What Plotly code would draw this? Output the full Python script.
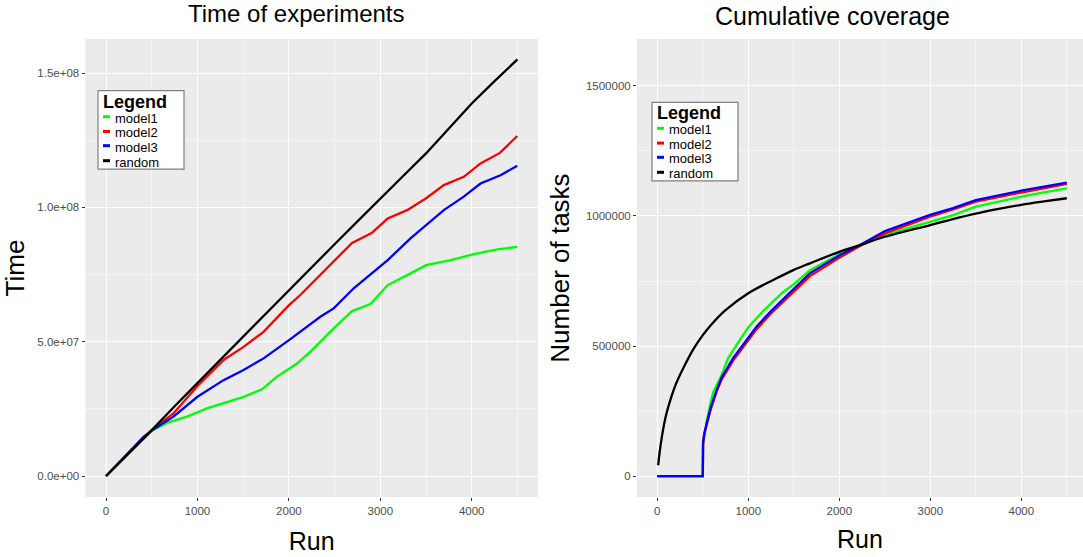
import plotly.graph_objects as go

# ---------------- data: Time of experiments ----------------
t_random_x = [0, 250, 500, 750, 1000, 1250, 1500, 1750, 2000, 2250, 2500, 2750, 3000, 3250, 3500, 3750, 4000, 4250, 4500]
t_random_y = [0, 8.5e6, 1.71e7, 2.6e7, 3.45e7, 4.33e7, 5.19e7, 6.05e7, 6.92e7, 7.75e7, 8.63e7, 9.48e7, 1.034e8,
              1.117e8, 1.201e8, 1.294e8, 1.387e8, 1.47e8, 1.551e8]

t_model2_x = [0, 250, 500, 737, 1000, 1285, 1504, 1723, 2001, 2125, 2344, 2508, 2691, 2910, 3081, 3293, 3501, 3695,
              3913, 4096, 4308, 4498]
t_model2_y = [0, 8.5e6, 1.71e7, 2.33e7, 3.35e7, 4.32e7, 4.81e7, 5.37e7, 6.36e7, 6.74e7, 7.48e7, 8.04e7, 8.68e7,
              9.06e7, 9.59e7, 9.9e7, 1.034e8, 1.083e8, 1.114e8, 1.164e8, 1.203e8, 1.266e8]

t_model3_x = [0, 250, 409, 500, 737, 1000, 1285, 1504, 1723, 2001, 2125, 2344, 2490, 2709, 3081, 3330, 3501, 3695,
              3913, 4096, 4315, 4498]
t_model3_y = [0, 8.7e6, 1.46e7, 1.69e7, 2.21e7, 2.95e7, 3.57e7, 3.95e7, 4.38e7, 5.06e7, 5.37e7, 5.93e7, 6.24e7,
              6.99e7, 8.04e7, 8.85e7, 9.34e7, 9.9e7, 1.04e8, 1.089e8, 1.12e8, 1.155e8]

t_model1_x = [0, 250, 500, 665, 884, 1103, 1322, 1504, 1705, 1870, 2089, 2253, 2490, 2691, 2892, 3081, 3293, 3501,
              3768, 4023, 4279, 4498]
t_model1_y = [0, 8.5e6, 1.69e7, 1.98e7, 2.21e7, 2.52e7, 2.77e7, 2.95e7, 3.23e7, 3.7e7, 4.19e7, 4.69e7, 5.5e7,
              6.14e7, 6.4e7, 7.11e7, 7.48e7, 7.85e7, 8.04e7, 8.26e7, 8.44e7, 8.53e7]

# ---------------- data: Cumulative coverage ----------------
c_random_x = [10, 25, 50, 75, 100, 150, 200, 300, 400, 500, 600, 750, 1000, 1275, 1495, 1678, 2008, 2227, 2502,
              3000, 3250, 3500, 3750, 4000, 4250, 4500]
c_random_y = [4.2e4, 9.0e4, 1.5e5, 2.0e5, 2.4e5, 3.0e5, 3.5e5, 4.25e5, 4.9e5, 5.42e5, 5.85e5, 6.38e5, 7.03e5,
              7.54e5, 7.92e5, 8.18e5, 8.63e5, 8.88e5, 9.2e5, 9.65e5, 9.88e5, 1.009e6, 1.027e6, 1.043e6, 1.056e6,
              1.068e6]

c_model1_x = [0, 500, 503, 520, 540, 575, 616, 689, 780, 900, 1000, 1150, 1374, 1500, 1678, 2008, 2227, 2502, 2997,
              3250, 3500, 3750, 4000, 4250, 4500]
c_model1_y = [0, 0, 1.2e5, 1.7e5, 2.05e5, 2.67e5, 3.25e5, 3.75e5, 4.55e5, 5.2e5, 5.72e5, 6.3e5, 7.05e5, 7.38e5,
              7.92e5, 8.54e5, 8.88e5, 9.27e5, 9.78e5, 1.003e6, 1.036e6, 1.056e6, 1.074e6, 1.091e6, 1.106e6]

c_model2_x = [0, 500, 503, 516, 543, 590, 652, 708, 835, 1000, 1092, 1250, 1470, 1678, 2008, 2227, 2502, 2997, 3250,
              3500, 4000, 4500]
c_model2_y = [0, 0, 1.25e5, 1.6e5, 1.98e5, 2.6e5, 3.25e5, 3.72e5, 4.45e5, 5.22e5, 5.65e5, 6.25e5, 7.0e5, 7.69e5,
              8.41e5, 8.85e5, 9.33e5, 9.97e5, 1.025e6, 1.055e6, 1.09e6, 1.123e6]

c_model3_x = [0, 500, 503, 516, 543, 590, 652, 708, 835, 1000, 1092, 1250, 1470, 1678, 2008, 2227, 2502, 2997, 3250,
              3500, 4000, 4500]
c_model3_y = [0, 0, 1.3e5, 1.64e5, 2.03e5, 2.67e5, 3.31e5, 3.8e5, 4.55e5, 5.3e5, 5.75e5, 6.35e5, 7.1e5, 7.8e5,
              8.5e5, 8.88e5, 9.42e5, 1.004e6, 1.03e6, 1.061e6, 1.097e6, 1.128e6]

series_names = ["model1", "model2", "model3", "random"]
series_colors = ["#00FF00", "#FF0000", "#0000FF", "#000000"]

x_tickvals = [0, 1000, 2000, 3000, 4000]
x_ticktext = ["0", "1000", "2000", "3000", "4000"]
t_tickvals = [0, 5e7, 1e8, 1.5e8]
t_ticktext = ["0.0e+00", "5.0e+07", "1.0e+08", "1.5e+08"]
c_tickvals = [0, 500000, 1000000, 1500000]
c_ticktext = ["0", "500000", "1000000", "1500000"]

W, H = 1083, 557
FONT = "Liberation Sans, Arial, sans-serif"

fig = go.Figure()

left = [(t_model1_x, t_model1_y), (t_model2_x, t_model2_y), (t_model3_x, t_model3_y), (t_random_x, t_random_y)]
right = [(c_model1_x, c_model1_y), (c_model2_x, c_model2_y), (c_model3_x, c_model3_y), (c_random_x, c_random_y)]

for (xs, ys), name, col in zip(left, series_names, series_colors):
    fig.add_trace(go.Scatter(x=xs, y=ys, mode="lines", name=name, line=dict(color=col, width=2.3),
                             xaxis="x", yaxis="y", showlegend=False))
for (xs, ys), name, col in zip(right, series_names, series_colors):
    shape = "spline" if name == "random" else "linear"
    fig.add_trace(go.Scatter(x=xs, y=ys, mode="lines", name=name,
                             line=dict(color=col, width=2.3, shape=shape),
                             xaxis="x2", yaxis="y2", showlegend=False))

def px(x):
    return x / W

def py(y):
    return 1 - y / H

common_axis = dict(
    showgrid=True, gridcolor="#FFFFFF", gridwidth=1.1, zeroline=False,
    ticks="outside", ticklen=3, tickcolor="#333333", tickwidth=1,
    tickfont=dict(family=FONT, size=11.5, color="#4D4D4D"),
    showline=False, tickmode="array", automargin=False,
)

fig.update_layout(
    width=W, height=H,
    margin=dict(l=0, r=0, t=0, b=0, autoexpand=False),
    paper_bgcolor="#FFFFFF",
    plot_bgcolor="#EBEBEB",
    showlegend=False,
    xaxis=dict(domain=[px(85.5), px(538)], range=[-225, 4725], tickvals=x_tickvals, ticktext=x_ticktext,
               minor=dict(dtick=500, tick0=500, showgrid=True, gridcolor="#F5F5F5", gridwidth=0.6, ticks=""),
               title=dict(text="Run", font=dict(family=FONT, size=25, color="#000000"), standoff=16),
               anchor="y", **common_axis),
    yaxis=dict(domain=[py(497), py(39)], range=[-7.8e6, 1.627e8], tickvals=t_tickvals, ticktext=t_ticktext,
               minor=dict(dtick=2.5e7, tick0=2.5e7, showgrid=True, gridcolor="#F5F5F5", gridwidth=0.6, ticks=""),
               title=dict(text="Time", font=dict(family=FONT, size=26, color="#000000"), standoff=8),
               anchor="x", **common_axis),
    xaxis2=dict(domain=[px(637), 1.0], range=[-223, 4678], tickvals=x_tickvals, ticktext=x_ticktext,
                minor=dict(dtick=500, tick0=500, showgrid=True, gridcolor="#F5F5F5", gridwidth=0.6, ticks=""),
                title=dict(text="Run", font=dict(family=FONT, size=25, color="#000000"), standoff=14),
                anchor="y2", **common_axis),
    yaxis2=dict(domain=[py(497), py(39)], range=[-80000, 1.68e6], tickvals=c_tickvals, ticktext=c_ticktext,
                minor=dict(dtick=250000, tick0=250000, showgrid=True, gridcolor="#F5F5F5", gridwidth=0.6, ticks=""),
                title=dict(text="Number of tasks", font=dict(family=FONT, size=26, color="#000000"), standoff=8),
                anchor="x2", **common_axis),
)

annotations = [
    dict(text="Time of experiments", x=px(296), y=py(13), xref="paper", yref="paper", showarrow=False,
         xanchor="center", yanchor="middle", font=dict(family=FONT, size=24, color="#000000")),
    dict(text="Cumulative coverage", x=px(832), y=py(16), xref="paper", yref="paper", showarrow=False,
         xanchor="center", yanchor="middle", font=dict(family=FONT, size=25, color="#000000")),
]
shapes = []

def add_legend(bx, by):
    shapes.append(dict(type="rect", xref="paper", yref="paper", x0=px(bx), x1=px(bx + 86), y0=py(by + 78.5),
                       y1=py(by), fillcolor="#FFFFFF", line=dict(color="#7F7F7F", width=1.2), layer="above"))
    annotations.append(dict(text="<b>Legend</b>", x=px(bx + 2.5), y=py(by + 11), xref="paper", yref="paper",
                            showarrow=False, xanchor="left", yanchor="middle",
                            font=dict(family=FONT, size=18, color="#000000")))
    offs = [27.5, 42.3, 56.5, 71.5]
    for name, col, o in zip(series_names, series_colors, offs):
        shapes.append(dict(type="line", xref="paper", yref="paper", x0=px(bx + 5), x1=px(bx + 12),
                           y0=py(by + o - 1.5), y1=py(by + o - 1.5), line=dict(color=col, width=3), layer="above"))
        annotations.append(dict(text=name, x=px(bx + 14.5), y=py(by + o), xref="paper", yref="paper",
                                showarrow=False, xanchor="left", yanchor="middle",
                                font=dict(family=FONT, size=13, color="#000000")))

add_legend(98, 90.7)
add_legend(652, 102.3)

fig.update_layout(annotations=annotations, shapes=shapes)
fig.write_html("out.html", config={"displayModeBar": False},
               post_script="document.body.style.margin='0';document.body.style.padding='0';"
                           "document.body.style.overflow='hidden';")
